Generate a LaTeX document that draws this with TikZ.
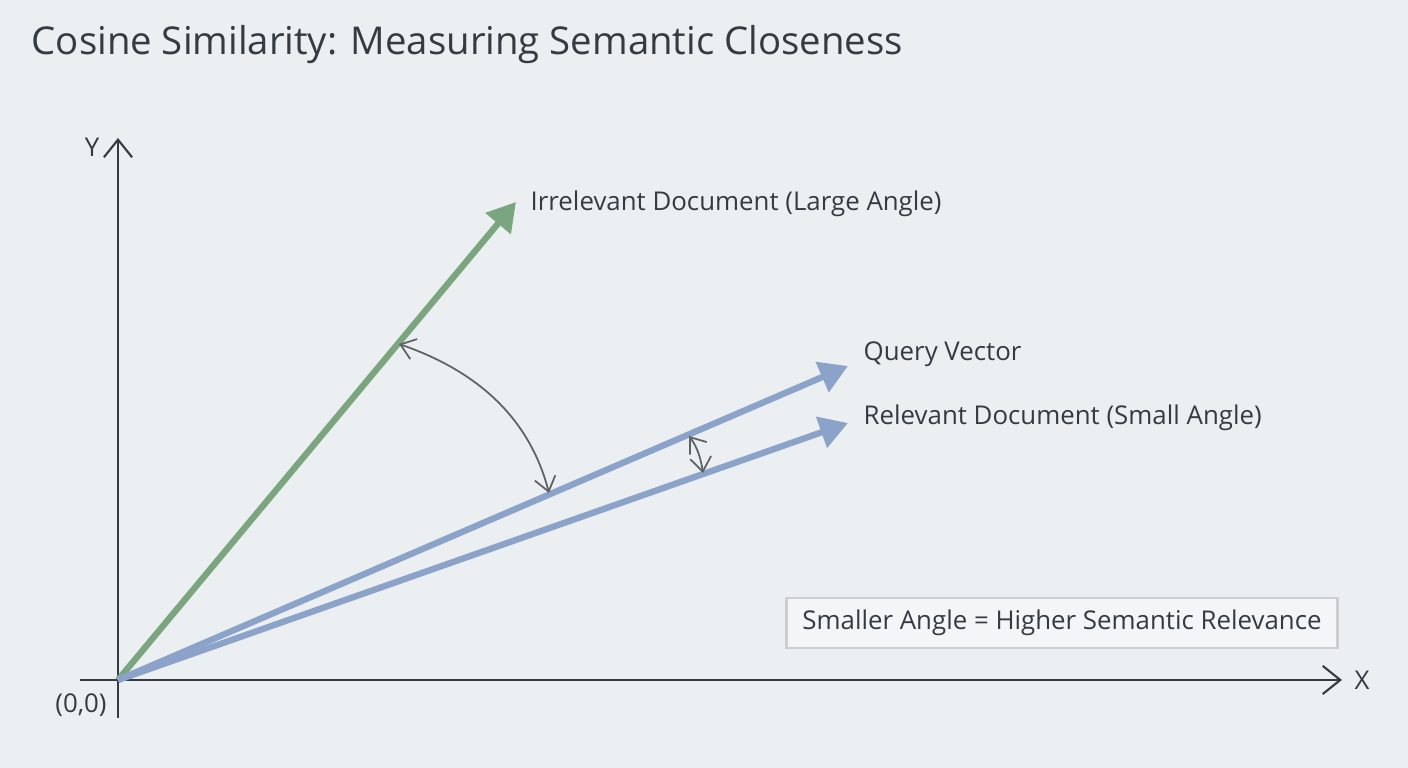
\documentclass[tikz,border=0pt]{standalone}
\usepackage{fontspec}
\setmainfont{Open Sans}
\usetikzlibrary{arrows.meta}
\definecolor{bgcol}{HTML}{ECEFF2}
\definecolor{inkcol}{HTML}{343B42}
\definecolor{greenvec}{HTML}{7BA57E}
\definecolor{bluevec}{HTML}{8BA3C8}
\tikzset{
  axis/.style={draw=inkcol, line width=0.6pt, -{Straight Barb[length=5pt,width=8pt]}},
  vec/.style={line width=1.8pt, -{Triangle[length=8pt,width=9pt]}},
  angarc/.style={draw=inkcol!80, line width=0.5pt, {Straight Barb[length=4pt,width=6pt]}-{Straight Barb[length=4pt,width=6pt]}},
  lbl/.style={text=inkcol, font=\fontsize{7.35}{9}\selectfont, inner sep=0pt}
}
\begin{document}
\begin{tikzpicture}[x=0.01cm,y=-0.01cm]
    \fill[bgcol] (0,0) rectangle (1408,768);

    % Title
    \node[lbl, anchor=west, font=\fontsize{10.9}{13}\selectfont] (title) at (31,45) {Cosine Similarity: Measuring Semantic Closeness};

    % Axes
    \coordinate (origin) at (118,680);
    \coordinate (xstart) at (80,680);
    \coordinate (xend) at (1342,680);
    \coordinate (ystart) at (118,718);
    \coordinate (yend) at (118,138);
    \draw[axis] (xstart) -- (xend);
    \draw[axis] (ystart) -- (yend);
    \node[lbl, anchor=west] (xlabel) at (1354,680) {X};
    \node[lbl, anchor=east] (ylabel) at (100,147) {Y};
    \node[lbl] (olabel) at (81,705) {(0,0)};

    % Vectors
    \coordinate (irrtip) at (516,202);
    \coordinate (qtip) at (848,366);
    \coordinate (reltip) at (848,423);
    \draw[vec, greenvec] (origin) -- (irrtip);
    \draw[vec, bluevec] (origin) -- (qtip);
    \draw[vec, bluevec] (origin) -- (reltip);
    \node[lbl, anchor=west] (irrlabel) at (530,204) {Irrelevant Document (Large Angle)};
    \node[lbl, anchor=west] (qlabel) at (863,354) {Query Vector};
    \node[lbl, anchor=west] (rellabel) at (863,418) {Relevant Document (Small Angle)};

    % Angle arcs
    \coordinate (bigA) at (399,344);
    \coordinate (bigB) at (549,493);
    \coordinate (smallA) at (689,436);
    \coordinate (smallB) at (703,473);
    \draw[angarc] (bigA) .. controls (480,372) and (530,420) .. (bigB);
    \draw[angarc] (smallA) .. controls (698,448) and (701,460) .. (smallB);

    % Note box
    \node[lbl, draw=inkcol!25, fill=bgcol!60!white, line width=0.8pt,
          minimum height=0.5cm, minimum width=5.5cm] (note) at (1062,623)
          {Smaller Angle = Higher Semantic Relevance};
\end{tikzpicture}
\end{document}
